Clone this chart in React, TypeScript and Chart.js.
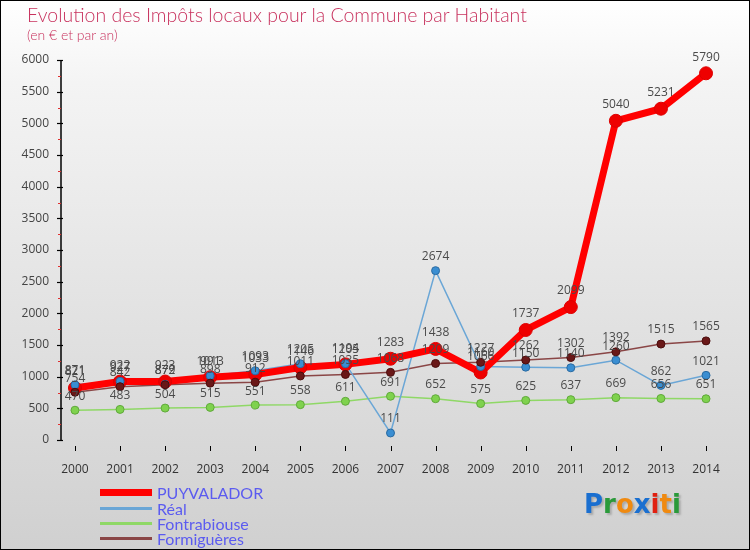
import React, { useEffect, useRef } from "react";
import { Chart, registerables } from "chart.js";

Chart.register(...registerables);

const years = [2000, 2001, 2002, 2003, 2004, 2005, 2006, 2007, 2008, 2009, 2010, 2011, 2012, 2013, 2014];
const puyvalador = [821, 922, 923, 991, 1033, 1146, 1194, 1283, 1438, 1066, 1737, 2099, 5040, 5231, 5790];
const real = [871, 927, 879, 1013, 1093, 1205, 1205, 111, 2674, 1160, 1150, 1140, 1260, 862, 1021];
const fontrabiouse = [470, 483, 504, 515, 551, 558, 611, 691, 652, 575, 625, 637, 669, 656, 651];
const formigueres = [754, 842, 872, 898, 912, 1011, 1035, 1068, 1209, 1227, 1262, 1302, 1392, 1515, 1565];
const yTicks = [0, 500, 1000, 1500, 2000, 2500, 3000, 3500, 4000, 4500, 5000, 5500, 6000];

const seriesNames = ["PUYVALADOR", "Réal", "Fontrabiouse", "Formiguères"];
const seriesValues = [puyvalador, real, fontrabiouse, formigueres];
const lineColors = ["#ff0000", "#6aa6d6", "#8fd866", "#8a4646"];
const pointColors = ["#ee0000", "#3a8ed2", "#7fd24e", "#6a1818"];
const pointBorders = ["#dd0000", "#2a6aa0", "#5fa83a", "#4a0c0c"];
const lineWidths = [7, 1.5, 1.5, 1.5];
const pointRadii = [6.5, 4, 4, 4];

const axisPlugin = {
  id: "axisDeco",
  beforeDatasetsDraw(chart: any) {
    const { ctx, chartArea, scales } = chart;
    const y = scales.y;
    const x = scales.x;
    ctx.save();
    ctx.strokeStyle = "#000";
    ctx.lineWidth = 1.5;
    ctx.beginPath();
    ctx.moveTo(chartArea.left, y.getPixelForValue(6000));
    ctx.lineTo(chartArea.left, y.getPixelForValue(0));
    ctx.stroke();
    ctx.lineWidth = 1.2;
    yTicks.forEach((v) => {
      const py = Math.round(y.getPixelForValue(v)) + 0.5;
      ctx.beginPath();
      ctx.moveTo(chartArea.left - 4, py);
      ctx.lineTo(chartArea.left + 2, py);
      ctx.stroke();
    });
    ctx.strokeStyle = "#e03030";
    ctx.lineWidth = 1;
    for (let i = 0; i < yTicks.length - 1; i++) {
      const v = (yTicks[i] + yTicks[i + 1]) / 2;
      const py = Math.round(y.getPixelForValue(v)) + 0.5;
      ctx.beginPath();
      ctx.moveTo(chartArea.left - 3, py);
      ctx.lineTo(chartArea.left, py);
      ctx.stroke();
    }
    ctx.strokeStyle = "#000";
    ctx.lineWidth = 1;
    years.forEach((yr) => {
      const px = Math.round(x.getPixelForValue(yr)) + 0.5;
      ctx.beginPath();
      ctx.moveTo(px, chartArea.bottom + 6);
      ctx.lineTo(px, chartArea.bottom + 11);
      ctx.stroke();
    });
    ctx.restore();
  },
};

const labelPlugin = {
  id: "pointLabels",
  afterDatasetsDraw(chart: any) {
    const { ctx } = chart;
    ctx.save();
    ctx.font = "12px 'Open Sans'";
    ctx.fillStyle = "#4a4a4a";
    ctx.textAlign = "center";
    ctx.textBaseline = "middle";
    chart.data.datasets.forEach((ds: any, di: number) => {
      if (!ds.isPoints) return;
      const meta = chart.getDatasetMeta(di);
      meta.data.forEach((pt: any, i: number) => {
        const v = ds.data[i].y;
        const off = ds.seriesIndex === 0 ? 16 : 14;
        ctx.fillText(String(v), pt.x, pt.y - off);
      });
    });
    ctx.restore();
  },
};

export default function App() {
  const ref = useRef<HTMLCanvasElement>(null);
  useEffect(() => {
    if (!ref.current) return;
    const datasets: any[] = [];
    seriesValues.forEach((vals, si) => {
      datasets.push({
        label: seriesNames[si] + " line",
        data: vals.map((v, i) => ({ x: years[i], y: v })),
        borderColor: lineColors[si],
        borderWidth: lineWidths[si],
        pointRadius: 0,
        fill: false,
        tension: 0,
        order: si === 0 ? 10 : 20 + si,
      });
    });
    seriesValues.forEach((vals, si) => {
      datasets.push({
        label: seriesNames[si],
        isPoints: true,
        seriesIndex: si,
        data: vals.map((v, i) => ({ x: years[i], y: v })),
        showLine: false,
        pointRadius: pointRadii[si],
        pointBackgroundColor: pointColors[si],
        pointBorderColor: pointBorders[si],
        pointBorderWidth: 1,
        order: si === 0 ? 9 : 5 - si,
      });
    });
    const chart = new Chart(ref.current, {
      type: "line",
      data: { datasets },
      plugins: [axisPlugin, labelPlugin],
      options: {
        animation: false,
        responsive: false,
        layout: { padding: { top: 60, right: 30, left: 0, bottom: 0 } },
        plugins: { legend: { display: false }, tooltip: { enabled: false }, title: { display: false } },
        scales: {
          x: {
            type: "linear",
            min: 1999.69,
            max: 2014.31,
            grid: { display: false },
            border: { display: false },
            afterBuildTicks: (scale: any) => {
              scale.ticks = years.map((v) => ({ value: v }));
            },
            afterFit: (scale: any) => {
              scale.height = 110;
            },
            ticks: {
              autoSkip: false,
              maxRotation: 0,
              padding: 14,
              color: "#333",
              font: { family: "'Open Sans'", size: 12 },
              callback: (v: any) => String(v),
            },
          },
          y: {
            min: 0,
            max: 6000,
            grid: { display: false },
            border: { display: false },
            afterFit: (scale: any) => {
              scale.width = 61;
            },
            ticks: {
              stepSize: 500,
              padding: 4,
              color: "#444",
              font: { family: "'Open Sans'", size: 12 },
              callback: (v: any) => String(v),
            },
          },
        },
      },
    });
    return () => chart.destroy();
  }, []);

  const legendRow = (i: number, top: number) => (
    <div key={i} style={{ position: "absolute", left: 99, top, height: 15, display: "flex", alignItems: "center" }}>
      <div style={{ width: 52, height: i === 0 ? 7 : 3, background: lineColors[i], marginRight: 5 }} />
      <span style={{ color: "#5b5bf0", fontFamily: "'Lato'", fontSize: 16, lineHeight: "15px" }}>{seriesNames[i]}</span>
    </div>
  );

  const logoLetters = [
    ["P", "#1a6fd0"],
    ["r", "#2a9a3a"],
    ["o", "#f08a10"],
    ["x", "#1a6fd0"],
    ["i", "#e02010"],
    ["t", "#f08a10"],
    ["i", "#2a9a3a"],
  ];

  return (
    <div
      style={{
        position: "fixed",
        left: 0,
        top: 0,
        width: 750,
        height: 550,
        boxSizing: "border-box",
        border: "1px solid #000",
        background: "linear-gradient(#ffffff 0%, #f4f4f4 15%, #d0d0d0 100%)",
        overflow: "hidden",
      }}
    >
      <canvas ref={ref} width={750} height={550} style={{ position: "absolute", left: -1, top: -1 }} />
      <div style={{ position: "absolute", left: 26, top: 2, color: "#c8325e", fontFamily: "'Lato'", fontWeight: 300, fontSize: 19.5, whiteSpace: "nowrap" }}>
        Evolution des Impôts locaux pour la Commune par Habitant
      </div>
      <div style={{ position: "absolute", left: 26, top: 25, color: "#c8325e", fontFamily: "'Lato'", fontWeight: 300, fontSize: 14, whiteSpace: "nowrap" }}>
        (en € et par an)
      </div>
      {legendRow(0, 484)}
      {legendRow(1, 500)}
      {legendRow(2, 515)}
      {legendRow(3, 530)}
      <div style={{ position: "absolute", left: 583, top: 488, fontFamily: "'DejaVu Sans'", fontSize: 26, fontWeight: "bold", letterSpacing: 0, textShadow: "2px 2px 2px #aaa", whiteSpace: "nowrap" }}>
        {logoLetters.map(([c, col], i) => (
          <span key={i} style={{ color: col }}>{c}</span>
        ))}
      </div>
    </div>
  );
}
